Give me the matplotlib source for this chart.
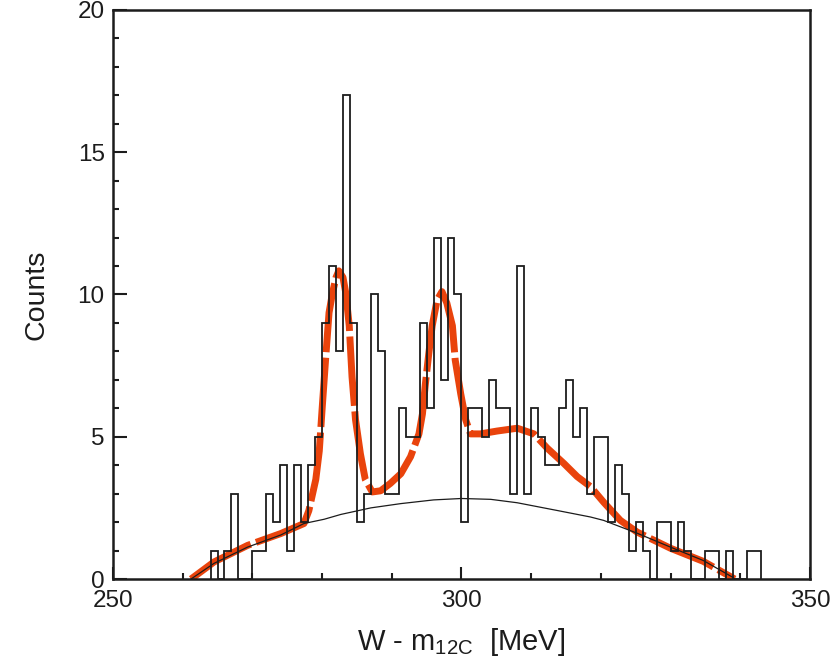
import numpy as np
import matplotlib
matplotlib.use("Agg")
from matplotlib import pyplot as plt
from matplotlib.ticker import MultipleLocator
from matplotlib.transforms import ScaledTranslation

plt.rcParams["font.family"] = ["Liberation Sans", "DejaVu Sans"]
plt.rcParams["mathtext.default"] = "regular"

# histogram, 1 MeV bins starting at 264 MeV
bin_lo = 264
counts = [1, 0, 1, 3, 0, 0, 1, 1, 3, 2,
          4, 1, 4, 2, 4, 5, 9, 11, 8, 17,
          9, 2, 3, 10, 8, 3, 3, 6, 5, 5,
          9, 6, 12, 7, 12, 10, 2, 6, 6, 5,
          7, 6, 6, 3, 11, 3, 6, 5, 4, 4,
          6, 7, 5, 6, 3, 5, 5, 2, 4, 3,
          1, 2, 1, 0, 2, 2, 1, 2, 1, 0,
          0, 1, 1, 0, 1, 0, 0, 1, 1]

# background curve (thin black)
bg_x = [261.2, 264.5, 269.3, 274.1, 277.4, 280.3, 282.7, 287.0, 291.3, 296.0,
        300.0, 304.2, 308.0, 313.7, 318.5, 320.4, 325.2, 330.0, 334.7, 339.0]
bg_y = [0.0, 0.55, 1.12, 1.55, 1.95, 2.1, 2.27, 2.5, 2.65, 2.78,
        2.83, 2.8, 2.68, 2.41, 2.18, 2.06, 1.61, 1.12, 0.65, 0.05]

# total fit (thick red dashed)
fit_x = [261.2, 264.5, 269.3, 274.1, 277.4, 278.1, 278.6, 279.1, 279.6, 280.0,
         280.5, 281.0, 281.5, 282.0, 282.4, 283.0, 283.4, 283.9, 284.3, 284.8,
         285.5, 286.2, 287.2, 288.4, 289.8, 291.3, 292.7, 293.9, 294.4, 294.8,
         295.3, 295.8, 296.5, 297.2, 297.9, 298.7, 299.1, 299.9, 300.6, 301.3,
         302.7, 305.1, 308.0, 310.4, 312.3, 314.7, 316.6, 318.5, 320.4, 322.8,
         325.2, 330.0, 334.7, 339.2]
fit_y = [0.0, 0.6, 1.18, 1.6, 1.95, 2.4, 2.95, 3.5, 4.5, 5.95,
         7.7, 9.36, 10.06, 10.6, 10.83, 10.6, 10.06, 8.9, 7.1, 5.6,
         4.4, 3.5, 3.06, 3.1, 3.36, 3.7, 4.3, 5.1, 5.8, 6.8,
         7.9, 8.9, 9.8, 10.1, 9.7, 8.9, 7.7, 6.5, 5.6, 5.1,
         5.1, 5.2, 5.3, 5.1, 4.6, 4.06, 3.6, 3.25, 2.7, 2.06,
         1.65, 1.08, 0.62, 0.0]

ink = "#1c1c1c"

fig = plt.figure(figsize=(8.35, 6.64), dpi=100)
ax = fig.add_axes([0.1353, 0.128, 0.8347, 0.857])

edges = np.arange(bin_lo, bin_lo + len(counts) + 1)
ax.plot(fit_x, fit_y, color="#e9430c", lw=5, dashes=(10, 0.8),
        solid_capstyle="butt", dash_capstyle="butt", zorder=2)
ax.stairs(counts, edges, color=ink, lw=1.3, zorder=3)
ax.plot(bg_x, bg_y, color=ink, lw=0.9, zorder=4)

ax.set_xlim(250, 350)
ax.set_ylim(0, 20)
ax.xaxis.set_major_locator(MultipleLocator(50))
ax.xaxis.set_minor_locator(MultipleLocator(10))
ax.yaxis.set_major_locator(MultipleLocator(5))
ax.yaxis.set_minor_locator(MultipleLocator(1))

for s in ax.spines.values():
    s.set_linewidth(1.8)
    s.set_color(ink)

ax.tick_params(which="both", direction="in", top=False, right=False,
               colors=ink, width=1.5, labelsize=17.5)
ax.tick_params(axis="x", which="major", length=8.5, pad=8)
ax.tick_params(axis="x", which="minor", length=4)
ax.tick_params(axis="y", which="major", length=10, pad=6)
ax.tick_params(axis="y", which="minor", length=4.5)

# lift the "0" label a little so it clears "250"
fig.canvas.draw()
lbl0 = ax.yaxis.get_majorticklabels()[0]
lbl0.set_transform(lbl0.get_transform() + ScaledTranslation(0, 6 / 72, fig.dpi_scale_trans))

ax.set_xlabel("W - m$_{12C}$  [MeV]", fontsize=21, color=ink, labelpad=10)
ax.set_ylabel("Counts", fontsize=20.5, color=ink, labelpad=20)

fig.savefig("out.png", dpi=100)
